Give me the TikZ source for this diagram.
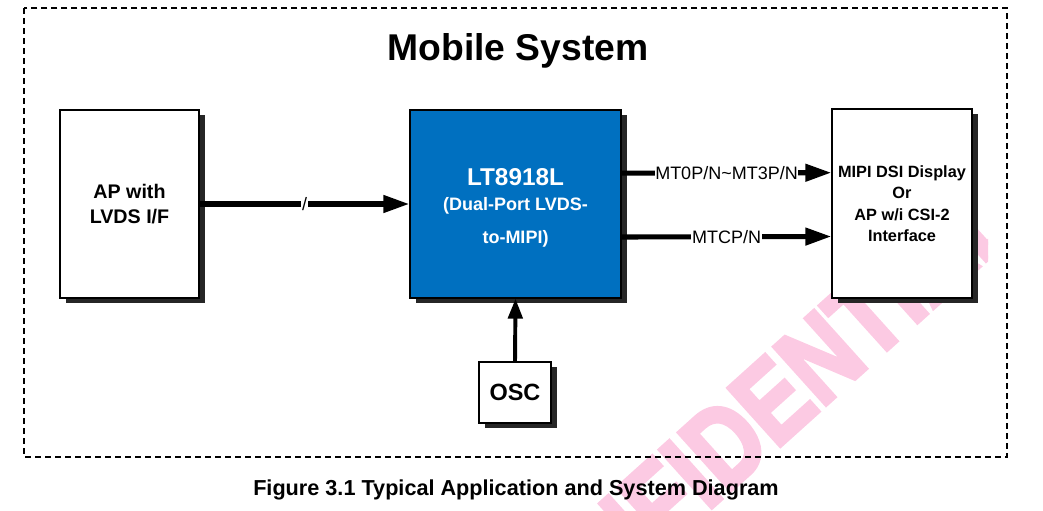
\documentclass[tikz,border=0pt]{standalone}
\usepackage{fontspec}
\setmainfont{Liberation Sans}
\newfontfamily\wmfont[FakeBold=4]{Liberation Sans Bold}
\usetikzlibrary{arrows.meta,shadows}
\definecolor{ltblue}{RGB}{0,112,192}
\definecolor{wmpink}{RGB}{252,202,227}

\begin{document}
\begin{tikzpicture}[x=0.025cm,y=-0.025cm,
  blk/.style={draw=black,line width=0.9pt,fill=white,inner sep=0pt,align=center,font=\bfseries,
    general shadow={fill=black!85,shadow xshift=0.14cm,shadow yshift=-0.12cm}},
  chip/.style={blk,fill=ltblue,text=white},
  bus/.style={line width=3.6pt,-{Triangle[length=0.65cm,width=0.42cm]}},
  sig/.style={fill=white,inner sep=0.5pt,font=\fontsize{12.8}{14}\selectfont},
  sysframe/.style={draw=black,line width=0.9pt,dash pattern=on 0.15cm off 0.1cm}]
  \useasboundingbox (0,0) rectangle (1043,511);
  % ---------- watermark ----------
  \begin{scope}
    \clip (0,0) rectangle (988,511);
    \node[text=wmpink,rotate=42,xscale=0.82,font=\fontsize{80}{80}\selectfont\wmfont] (wm) at (742,428) {CONFIDENTIAL};
  \end{scope}
  % ---------- frame and title ----------
  \draw[sysframe] (24,8) rectangle (1007,457);
  \node[font=\fontsize{26.5}{30}\selectfont\bfseries] (title) at (518,51) {Mobile System};
  % ---------- blocks ----------
  \node[blk,minimum width=3.475cm,minimum height=4.7cm,font=\fontsize{14}{17.8}\selectfont\bfseries] (ap) at (129.5,204) {AP with\\LVDS I/F};
  \node[chip,minimum width=5.275cm,minimum height=4.7cm,font=\fontsize{12.8}{23.5}\selectfont\bfseries] (lt) at (515.5,204)
    {\rule{0pt}{18pt}{\fontsize{17.3}{20}\selectfont LT8918L}\\[-5.7pt](Dual-Port LVDS-\\to-MIPI)};
  \node[blk,minimum width=3.5cm,minimum height=4.725cm,font=\fontsize{11.6}{15.2}\selectfont\bfseries] (disp) at (902,203.5)
    {MIPI DSI Display\\Or\\AP w/i CSI-2\\Interface};
  \node[blk,minimum width=1.8cm,minimum height=1.525cm,font=\fontsize{16.7}{20}\selectfont\bfseries] (osc) at (515,392.5) {OSC};
  % ---------- links ----------
  \draw[bus] (ap.east) -- node[sig] (bar) {/} (lt.west);
  \draw[bus] ([yshift=0.77cm]lt.east) -- node[sig] (mtd) {MT0P/N\textasciitilde MT3P/N} ([yshift=0.77cm]disp.west);
  \draw[bus] ([yshift=-0.825cm]lt.east) -- node[sig] (mtc) {MTCP/N} ([yshift=-0.825cm]disp.west);
  \draw[line width=2.8pt,-{Triangle[length=0.5cm,width=0.36cm]}] (osc.north) -- (lt.south);
  \node[font=\fontsize{15.4}{18}\selectfont\bfseries] (fig) at (516,490) {Figure 3.1 Typical Application and System Diagram};
\end{tikzpicture}
\end{document}
